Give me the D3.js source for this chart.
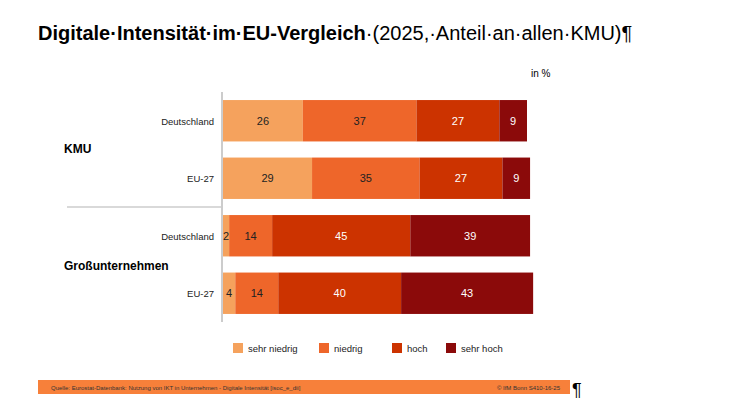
<!DOCTYPE html>
<html><head><meta charset="utf-8">
<script src="https://cdn.jsdelivr.net/npm/d3@7"></script>
<style>body{margin:0;background:#fff}text{font-family:"Liberation Sans",Arial,sans-serif}</style>
</head><body><svg id="c" width="736" height="414"></svg>
<script>
var rows = ["KMU|Deutschland", "KMU|EU-27", "GU|Deutschland", "GU|EU-27"];
var rowLabels = ["Deutschland", "EU-27", "Deutschland", "EU-27"];
var groups = ["KMU", "Großunternehmen"];
var series = ["sehr niedrig", "niedrig", "hoch", "sehr hoch"];
var sehrNiedrig = [26, 29, 2, 4];
var niedrig = [37, 35, 14, 14];
var hoch = [27, 27, 45, 40];
var sehrHoch = [9, 9, 39, 43];
var colors = ["#f5a25d", "#ee662a", "#cc3300", "#8b0a0a"];
var textColors = ["#222", "#222", "#fff", "#fff"];

var svg = d3.select("#c");
var values = [sehrNiedrig, niedrig, hoch, sehrHoch];
var x = d3.scaleLinear().domain([0, 99]).range([223, 527]);
var y = d3.scaleBand().domain(rows).range([92, 322]).paddingInner(0.28).paddingOuter(0.14);

var t = svg.append("text").attr("x", 38).attr("y", 40).attr("font-size", 20);
t.append("tspan").attr("font-weight", "bold").text("Digitale·Intensität·im·EU-Vergleich");
t.append("tspan").text("·(2025,·Anteil·an·allen·KMU)¶");

svg.append("text").attr("x", 531).attr("y", 77).attr("font-size", 10).text("in %");

rows.forEach(function(r, i) {
  var x0 = 0;
  values.forEach(function(arr, s) {
    var v = arr[i];
    svg.append("rect").attr("x", x(x0)).attr("y", y(r))
      .attr("width", x(x0 + v) - x(x0)).attr("height", y.bandwidth()).attr("fill", colors[s]);
    svg.append("text").attr("x", (x(x0) + x(x0 + v)) / 2).attr("y", y(r) + y.bandwidth() / 2 + 4)
      .attr("text-anchor", "middle").attr("font-size", 11).attr("fill", textColors[s]).text(v);
    x0 += v;
  });
  svg.append("text").attr("x", 214).attr("y", y(r) + y.bandwidth() / 2 + 4)
    .attr("text-anchor", "end").attr("font-size", 9.5).attr("fill", "#222").text(rowLabels[i]);
});

svg.append("line").attr("x1", 222).attr("x2", 222).attr("y1", 92).attr("y2", 322).attr("stroke", "#999");
svg.append("line").attr("x1", 67).attr("x2", 222).attr("y1", 207).attr("y2", 207).attr("stroke", "#ccc").attr("stroke-width", 1.5);

svg.append("text").attr("x", 64).attr("y", 153).attr("font-size", 12).attr("font-weight", "bold").text(groups[0]);
svg.append("text").attr("x", 64).attr("y", 270).attr("font-size", 12).attr("font-weight", "bold").text(groups[1]);

var lx = [233, 319, 392, 446];
series.forEach(function(s, i) {
  svg.append("rect").attr("x", lx[i]).attr("y", 343).attr("width", 10).attr("height", 10).attr("fill", colors[i]);
  svg.append("text").attr("x", lx[i] + 15).attr("y", 352).attr("font-size", 9.5).attr("fill", "#222").text(s);
});

svg.append("rect").attr("x", 38).attr("y", 380).attr("width", 532).attr("height", 14).attr("fill", "#f7803a");
svg.append("text").attr("x", 51).attr("y", 390).attr("font-size", 6).attr("fill", "#333")
  .text("Quelle: Eurostat-Datenbank: Nutzung von IKT in Unternehmen - Digitale Intensität [isoc_e_dii]");
svg.append("text").attr("x", 560).attr("y", 390).attr("font-size", 6).attr("text-anchor", "end").attr("fill", "#333")
  .text("© IfM Bonn  S410-16-25");
svg.append("text").attr("x", 572).attr("y", 396).attr("font-size", 18).text("¶");
</script></body></html>
